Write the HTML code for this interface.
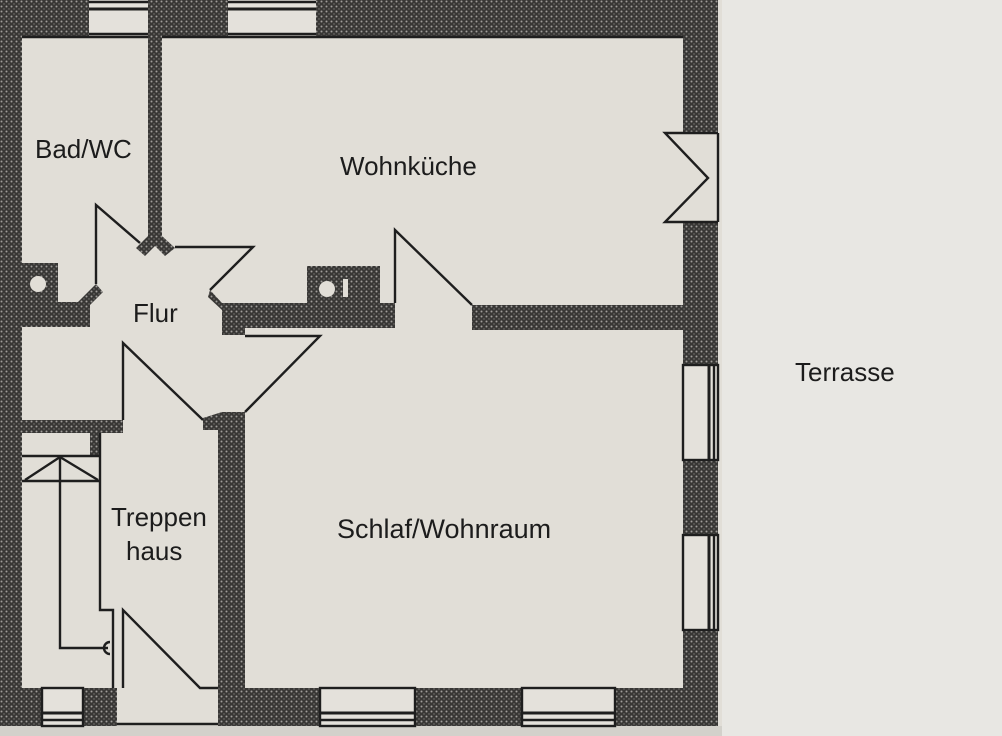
<!DOCTYPE html>
<html><head><style>
html,body{margin:0;padding:0;background:#e6e4df;}
svg{display:block}
text{font-family:"Liberation Sans",sans-serif;font-size:26px;fill:#1c1c1c;}
</style></head><body>
<svg width="1002" height="736" viewBox="0 0 1002 736" xmlns="http://www.w3.org/2000/svg">
<defs>
<pattern id="w" width="5" height="5" patternUnits="userSpaceOnUse">
<rect width="5" height="5" fill="#383735"/>
<circle cx="1.5" cy="1.5" r="1" fill="#a09e9a"/>
<circle cx="4" cy="4" r="0.7" fill="#7d7b77"/>
</pattern>
</defs>
<rect x="0" y="0" width="1002" height="736" fill="#e8e7e3"/>
<rect x="0" y="0" width="722" height="726" fill="#e1ded7"/>
<rect x="0" y="726" width="722" height="10" fill="#d3d1cb"/>

<g fill="url(#w)">
<rect x="0" y="0" width="22" height="726"/>
<rect x="0" y="0" width="89" height="36"/>
<rect x="148" y="0" width="80" height="36"/>
<rect x="316" y="0" width="402" height="36"/>
<rect x="683" y="0" width="35" height="133"/>
<rect x="683" y="222" width="35" height="143"/>
<rect x="683" y="460" width="35" height="75"/>
<rect x="683" y="630" width="35" height="96"/>
<rect x="0" y="688" width="42" height="38"/>
<rect x="83" y="688" width="34" height="38"/>
<rect x="218" y="688" width="102" height="38"/>
<rect x="415" y="688" width="107" height="38"/>
<rect x="615" y="688" width="103" height="38"/>
<polygon points="148,0 162,0 162,236 175,248 165,256 155,246 145,256 136,248 148,236"/>
<polygon points="22,263 58,263 58,302 78,302 96,284 103,292 90,305 90,327 22,327"/>
<polygon points="210,290 222,303 307,303 307,266 380,266 380,303 395,303 395,328 245,328 245,335 222,335 222,310 208,297"/>
<rect x="472" y="305" width="211" height="25"/>
<polygon points="203,418 222,412 245,412 245,688 218,688 218,430 203,430"/>
<polygon points="22,420 123,420 123,433 100,433 100,456 90,456 90,433 22,433"/>
</g>
<circle cx="38" cy="284" r="8" fill="#e1ded7"/>
<circle cx="327" cy="289" r="8" fill="#e1ded7"/>
<rect x="343" y="279" width="5" height="18" fill="#e1ded7"/>

<g fill="none" stroke="#1e1e1e" stroke-width="2.4">
<rect x="89" y="0" width="59" height="36" fill="#e4e1db" stroke="none"/>
<rect x="228" y="0" width="88" height="36" fill="#e4e1db" stroke="none"/>
<line x1="89" y1="2" x2="148" y2="2"/><line x1="89" y1="9" x2="148" y2="9" stroke-width="3"/><line x1="89" y1="34" x2="148" y2="34"/>
<line x1="228" y1="2" x2="316" y2="2"/><line x1="228" y1="9" x2="316" y2="9" stroke-width="3"/><line x1="228" y1="34" x2="316" y2="34"/>
<line x1="22" y1="37" x2="148" y2="37"/><line x1="162" y1="37" x2="683" y2="37"/>
<polyline points="718,133 665,133 708,178 665,222 718,222"/>
<line x1="718" y1="133" x2="718" y2="222"/>
<rect x="683" y="365" width="35" height="95" fill="#e4e1db"/>
<line x1="709" y1="365" x2="709" y2="460" stroke-width="3"/><line x1="714" y1="365" x2="714" y2="460"/>
<rect x="683" y="535" width="35" height="95" fill="#e4e1db"/>
<line x1="709" y1="535" x2="709" y2="630" stroke-width="3"/><line x1="714" y1="535" x2="714" y2="630"/>
<rect x="42" y="688" width="41" height="38" fill="#e4e1db"/>
<line x1="42" y1="713" x2="83" y2="713" stroke-width="3"/><line x1="42" y1="720" x2="83" y2="720"/>
<rect x="320" y="688" width="95" height="38" fill="#e4e1db"/>
<line x1="320" y1="713" x2="415" y2="713" stroke-width="3"/><line x1="320" y1="720" x2="415" y2="720"/>
<rect x="522" y="688" width="93" height="38" fill="#e4e1db"/>
<line x1="522" y1="713" x2="615" y2="713" stroke-width="3"/><line x1="522" y1="720" x2="615" y2="720"/>
<line x1="117" y1="724" x2="218" y2="724"/>
<polyline points="96,284 96,205 140,243"/>
<polyline points="175,247 253,247 210,290"/>
<polyline points="395,303 395,230 472,305"/>
<polyline points="245,336 320,336 245,412"/>
<polyline points="123,420 123,343 203,420"/>
<line x1="22" y1="456" x2="100" y2="456"/>
<line x1="22" y1="481" x2="100" y2="481"/>
<polyline points="25,480 60,457 98,480"/>
<polyline points="60,456 60,648 108,648"/>
<polyline points="100,433 100,610 113,610 113,688"/>
<path d="M110,642 a6,6 0 0 0 0,12"/>
<polyline points="123,688 123,610 200,688 218,688"/>
</g>

<text x="35" y="158">Bad/WC</text>
<text x="340" y="175">Wohnküche</text>
<text x="133" y="322">Flur</text>
<text x="795" y="381">Terrasse</text>
<text x="111" y="526">Treppen</text>
<text x="126" y="560">haus</text>
<text x="337" y="538" style="font-size:27px">Schlaf/Wohnraum</text>
</svg>
</body></html>
